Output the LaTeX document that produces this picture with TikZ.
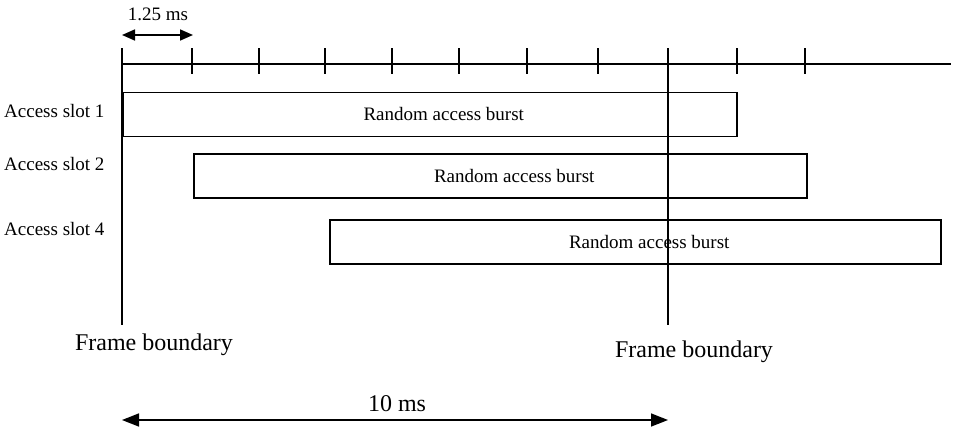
\documentclass[tikz,border=0pt]{standalone}
\usepackage{fontspec}
\setmainfont{Liberation Serif}
\usetikzlibrary{arrows.meta}
\begin{document}
\begin{tikzpicture}[x=1pt,y=-1pt,
  thick line/.style={line width=1.7pt},
  burst/.style={draw, line width=1.5pt, anchor=north west, inner sep=0pt},
  small/.style={inner sep=0pt, anchor=base, font=\fontsize{19}{22}\selectfont},
  big/.style={inner sep=0pt, anchor=base, font=\fontsize{24}{28}\selectfont},
  dimarrow/.style={line width=1.6pt, {Triangle[length=13pt,width=11pt]}-{Triangle[length=13pt,width=11pt]}},
  bigarrow/.style={line width=1.6pt, {Triangle[length=17pt,width=13pt]}-{Triangle[length=17pt,width=13pt]}}
]
\useasboundingbox (0,0) rectangle (953,431);

% timeline
\coordinate (tl0) at (122,64);
\coordinate (tl1) at (951,64);
\draw[thick line] (tl0) -- (tl1);
\foreach \x in {192,259,325,392,459,527,598,737,805}
  \draw[thick line] (\x,48) -- (\x,74);

% frame boundary lines
\coordinate (fa) at (122,48);
\coordinate (fab) at (122,325);
\coordinate (fb) at (668,48);
\coordinate (fbb) at (668,325);
\draw[thick line] (fa) -- (fab);
\draw[thick line] (fb) -- (fbb);

% bursts
\node[burst, minimum width=614pt, minimum height=44pt] (b1) at (122,91.5) {};
\node[burst, minimum width=613pt, minimum height=44pt] (b2) at (193,153) {};
\node[burst, minimum width=611pt, minimum height=44pt] (b3) at (329,219) {};
\node[small] (l1) at ([shift={(14pt,-6.5pt)}]b1.center) {Random access burst};
\node[small] (l2) at ([shift={(14pt,-6.5pt)}]b2.center) {Random access burst};
\node[small] (l3) at ([shift={(14pt,-6.5pt)}]b3.center) {Random access burst};

% slot labels
\node[small, anchor=base west] (s1) at (4,117) {Access slot 1};
\node[small, anchor=base west] (s2) at (4,170) {Access slot 2};
\node[small, anchor=base west] (s4) at (4,235) {Access slot 4};

% 1.25 ms
\coordinate (a1) at (122,35);
\coordinate (a2) at (193,35);
\draw[dimarrow] (a1) -- (a2);
\node[small] (t125) at (158,20) {1.25 ms};

% frame boundary labels
\node[big] (fl1) at (154,350) {Frame boundary};
\node[big] (fl2) at (694,357) {Frame boundary};

% 10 ms
\coordinate (m1) at (122,420);
\coordinate (m2) at (668,420);
\draw[bigarrow] (m1) -- (m2);
\node[big] (t10) at (397,411) {10 ms};
\end{tikzpicture}
\end{document}
